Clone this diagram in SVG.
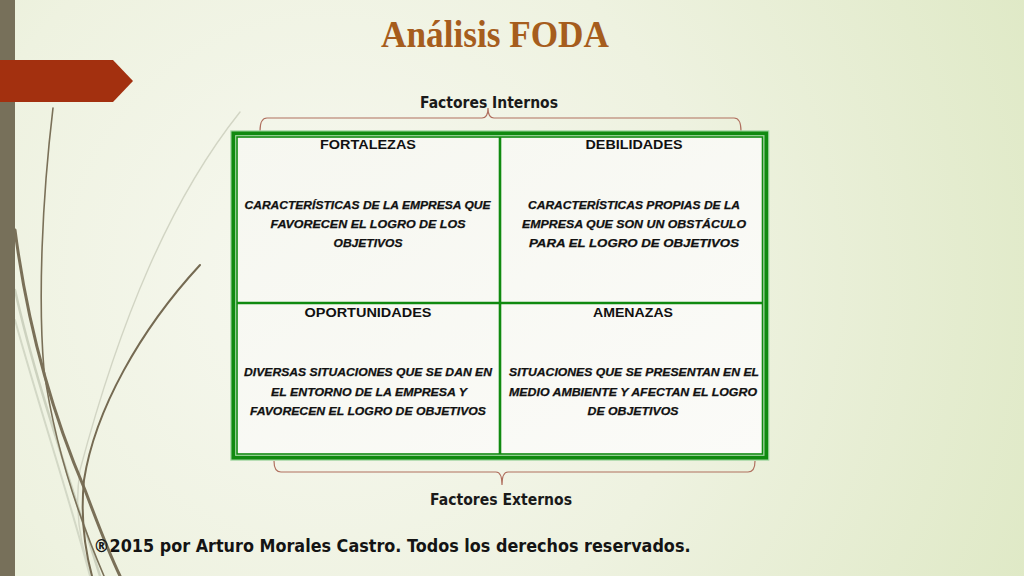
<svg xmlns="http://www.w3.org/2000/svg" width="1024" height="576" viewBox="0 0 1024 576">
<defs>
<radialGradient id="bg" cx="330" cy="280" r="760" gradientUnits="userSpaceOnUse">
<stop offset="0" stop-color="#f7f8f0"/>
<stop offset="0.5" stop-color="#eef2e0"/>
<stop offset="1" stop-color="#dfe9c6"/>
</radialGradient>
<linearGradient id="cell" x1="0" y1="0" x2="1" y2="1">
<stop offset="0" stop-color="#f6f7f0"/>
<stop offset="1" stop-color="#fbfbf8"/>
</linearGradient>
<style>
.hdr{font-family:"Liberation Sans",Arial,sans-serif;font-weight:bold;font-size:13px;fill:#111;text-anchor:middle}
.body{font-family:"Liberation Sans",Arial,sans-serif;font-weight:bold;font-style:italic;font-size:11px;fill:#111;text-anchor:middle;stroke:#111;stroke-width:0.25}
.lbl{font-family:"DejaVu Sans","Liberation Sans",sans-serif;font-weight:bold;font-size:15px;fill:#1a1a1a;text-anchor:middle}
.brk{fill:none;stroke:#b0705f;stroke-width:1.2}
.grid{stroke:#108a10;fill:none}
.curve{fill:none;stroke-linecap:round}
</style>
</defs>
<rect width="1024" height="576" fill="url(#bg)"/>
<g id="decoration">
<path class="curve" d="M240,112 C170,200 120,320 80,470 C74,510 80,545 92,576" stroke="#d2d5c4" stroke-width="1.4"/>
<path class="curve" d="M15,290 C35,380 70,480 100,576" stroke="#cdd2bf" stroke-width="2.5"/>
<path class="curve" d="M15,320 C40,410 70,500 90,576" stroke="#d3d8c6" stroke-width="2"/>
<path class="curve" d="M53,108 C42,200 38,300 44,370 C55,450 80,520 104,576" stroke="#7a7058" stroke-width="1.6"/>
<path class="curve" d="M15,230 C28,330 55,420 85,490 C100,530 110,555 120,576" stroke="#7a7058" stroke-width="3"/>
<path class="curve" d="M200,265 C140,330 95,410 84,480 C80,520 85,550 92,576" stroke="#756a52" stroke-width="2"/>
<rect x="0" y="0" width="15" height="576" fill="#77705a"/>
<path d="M0,60 L113,60 L133,81 L113,102 L0,102 Z" fill="#a3300f"/>
</g>
<g id="title">
<text x="495" y="47" textLength="228" lengthAdjust="spacingAndGlyphs" font-family="Liberation Serif,serif" font-weight="bold" font-size="37" fill="#a65d1d" text-anchor="middle">Análisis FODA</text>
</g>
<g id="factores-internos">
<text class="lbl" x="489" y="108" textLength="138" lengthAdjust="spacingAndGlyphs">Factores Internos</text>
<path class="brk" d="M260,131 Q260,118 267,118 L482,118 Q488,118 488,108 Q488,118 494,118 L734,118 Q741,118 741,131"/>
</g>
<g id="table">
<rect x="233.3" y="133.3" width="533" height="324.4" fill="url(#cell)" stroke="#9fd49f" stroke-width="6"/>
<rect x="233.3" y="133.3" width="533" height="324.4" class="grid" stroke-width="3.6"/>
<rect x="237" y="137" width="525.5" height="317" class="grid" stroke-width="1.6"/>
<line x1="237" y1="303" x2="762.5" y2="303" class="grid" stroke-width="2.6"/>
<line x1="500" y1="137" x2="500" y2="454" class="grid" stroke-width="2.6"/>
</g>
<g id="fortalezas">
<text class="hdr" x="368" y="149" textLength="96" lengthAdjust="spacingAndGlyphs">FORTALEZAS</text>
<text class="body" x="367.5" y="208.5" textLength="246" lengthAdjust="spacingAndGlyphs">CARACTERÍSTICAS DE LA EMPRESA QUE</text>
<text class="body" x="368" y="228" textLength="195" lengthAdjust="spacingAndGlyphs">FAVORECEN  EL LOGRO DE LOS</text>
<text class="body" x="368" y="247" textLength="69" lengthAdjust="spacingAndGlyphs">OBJETIVOS</text>
</g>
<g id="debilidades">
<text class="hdr" x="634" y="149" textLength="97" lengthAdjust="spacingAndGlyphs">DEBILIDADES</text>
<text class="body" x="634" y="208.5" textLength="212" lengthAdjust="spacingAndGlyphs">CARACTERÍSTICAS PROPIAS DE LA</text>
<text class="body" x="634" y="228" textLength="224" lengthAdjust="spacingAndGlyphs">EMPRESA QUE  SON UN OBSTÁCULO</text>
<text class="body" x="634" y="247" textLength="210" lengthAdjust="spacingAndGlyphs">PARA EL LOGRO DE OBJETIVOS</text>
</g>
<g id="oportunidades">
<text class="hdr" x="368" y="317" textLength="127" lengthAdjust="spacingAndGlyphs">OPORTUNIDADES</text>
<text class="body" x="368" y="376" textLength="248" lengthAdjust="spacingAndGlyphs">DIVERSAS SITUACIONES QUE SE DAN EN</text>
<text class="body" x="369" y="396" textLength="196" lengthAdjust="spacingAndGlyphs">EL ENTORNO DE LA EMPRESA  Y</text>
<text class="body" x="368" y="415" textLength="236" lengthAdjust="spacingAndGlyphs">FAVORECEN EL LOGRO DE OBJETIVOS</text>
</g>
<g id="amenazas">
<text class="hdr" x="633" y="317" textLength="80" lengthAdjust="spacingAndGlyphs">AMENAZAS</text>
<text class="body" x="634" y="376" textLength="250" lengthAdjust="spacingAndGlyphs">SITUACIONES QUE SE PRESENTAN EN EL</text>
<text class="body" x="633" y="396" textLength="248" lengthAdjust="spacingAndGlyphs">MEDIO AMBIENTE  Y AFECTAN EL LOGRO</text>
<text class="body" x="633" y="415" textLength="91" lengthAdjust="spacingAndGlyphs">DE OBJETIVOS</text>
</g>
<g id="factores-externos">
<path class="brk" d="M274,461 Q274,472 281,472 L496,472 Q502,472 502,485 Q502,472 508,472 L748,472 Q755,472 755,461"/>
<text class="lbl" x="501" y="505" textLength="142" lengthAdjust="spacingAndGlyphs">Factores Externos</text>
</g>
<g id="footer">
<text x="392" y="552" textLength="597" lengthAdjust="spacingAndGlyphs" font-family="DejaVu Sans,Liberation Sans,sans-serif" font-weight="bold" font-size="17.5" fill="#141414" text-anchor="middle">®2015 por Arturo Morales Castro. Todos los derechos reservados.</text>
</g>
</svg>
